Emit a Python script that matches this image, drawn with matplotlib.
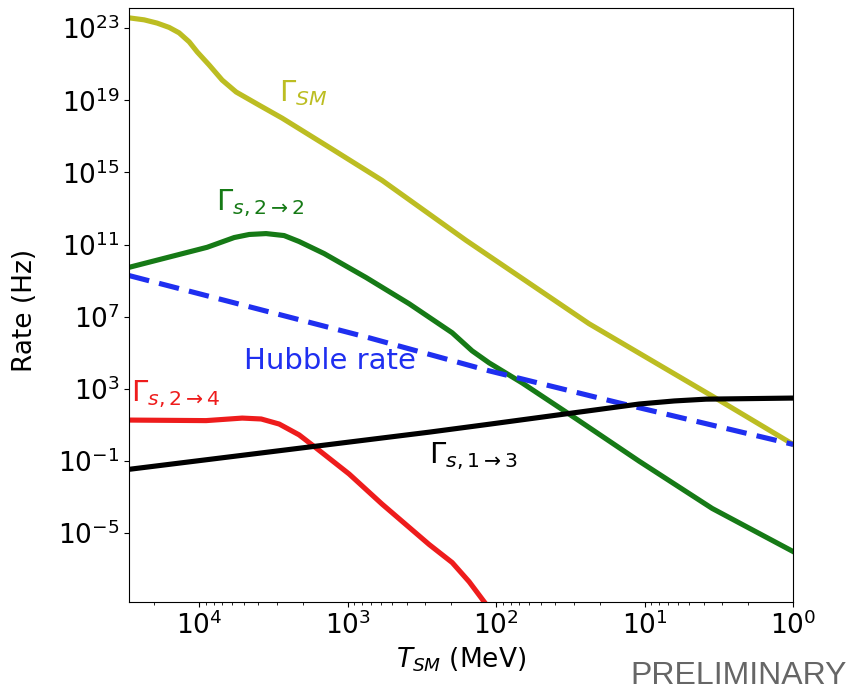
#!/usr/bin/env python3

import numpy as np
import matplotlib
matplotlib.use('Agg')
import matplotlib.pyplot as plt
from matplotlib.ticker import NullLocator

# values, as log10 of T (MeV) and log10 of rate (Hz)
sm_logT=[4.471,4.370,4.283,4.202,4.135,4.067,4.013,3.933,3.845,3.751,3.596,3.441,3.104,2.768,2.202,1.374,0.545,0.0]
sm_logR=[23.57,23.46,23.28,23.04,22.74,22.24,21.68,20.96,20.12,19.46,18.73,18.01,16.29,14.56,11.23,6.61,2.60,-0.08]

s22_logT=[4.471,3.946,3.764,3.663,3.549,3.428,3.327,3.158,2.875,2.586,2.296,2.162,2.047,1.825,1.488,1.037,0.545,0.0]
s22_logR=[9.74,10.85,11.39,11.56,11.61,11.50,11.17,10.50,9.17,7.72,6.11,5.11,4.44,3.33,1.49,-1.01,-3.63,-6.02]

hub_logT=[4.471,2.855,2.047,1.172,0.0]
hub_logR=[9.28,5.83,4.0,2.22,-0.08]

s24_logT=[4.471,3.953,3.71,3.582,3.461,3.327,3.212,2.99,2.768,2.451,2.296,2.182,1.98]
s24_logR=[1.27,1.24,1.38,1.33,1.05,0.45,-0.28,-1.72,-3.39,-5.63,-6.63,-7.69,-9.91]

s13_logT=[4.471,2.451,2.047,1.488,1.037,0.80,0.586,0.0]
s13_logR=[-1.46,0.60,1.04,1.66,2.16,2.33,2.43,2.49]

def pw(a):
  return 10**np.array(a)

fig=plt.figure(figsize=(8.51,6.92),dpi=100)
ax=fig.add_axes([0.152,0.1305,0.78,0.8575])

lw=3.7
ax.plot(pw(sm_logT),pw(sm_logR),color='#bcbd22',lw=lw)
ax.plot(pw(s22_logT),pw(s22_logR),color='#167a16',lw=lw)
ax.plot(pw(hub_logT),pw(hub_logR),color='#1f2ff0',lw=lw,ls=(0,(4,2)))
ax.plot(pw(s24_logT),pw(s24_logR),color='#ee1c1c',lw=lw)
ax.plot(pw(s13_logT),pw(s13_logR),color='black',lw=lw)

ax.set_xscale('log')
ax.set_yscale('log')
ax.set_xlim(10**4.47,1)
ax.set_ylim(10**-8.8,10**24.1)
ax.set_yticks([10.0**k for k in [23,19,15,11,7,3,-1,-5]])
ax.yaxis.set_minor_locator(NullLocator())
ax.tick_params(labelsize=19)

ax.set_xlabel(r'$T_{SM}$ (MeV)',fontsize=19)
ax.set_ylabel('Rate (Hz)',fontsize=19)
ax.yaxis.set_label_coords(-0.138,0.49)

fs=21
ax.text(10**3.461,10**19.4,r'$\Gamma_{SM}$',color='#bcbd22',fontsize=fs,va='center')
ax.text(10**3.886,10**13.28,r'$\Gamma_{s,2\rightarrow2}$',color='#167a16',fontsize=fs,va='center')
ax.text(10**3.697,10**4.56,'Hubble rate',color='#1f2ff0',fontsize=fs,va='center')
ax.text(10**4.458,10**2.72,r'$\Gamma_{s,2\rightarrow4}$',color='#ee1c1c',fontsize=fs,va='center')
ax.text(10**2.451,10**-0.73,r'$\Gamma_{s,1\rightarrow3}$',color='black',fontsize=fs,va='center')

fig.text(0.995,0.002,'PRELIMINARY',color='#666666',fontsize=23,ha='right',va='bottom',family='Liberation Sans')

fig.savefig('out.png',dpi=100)
